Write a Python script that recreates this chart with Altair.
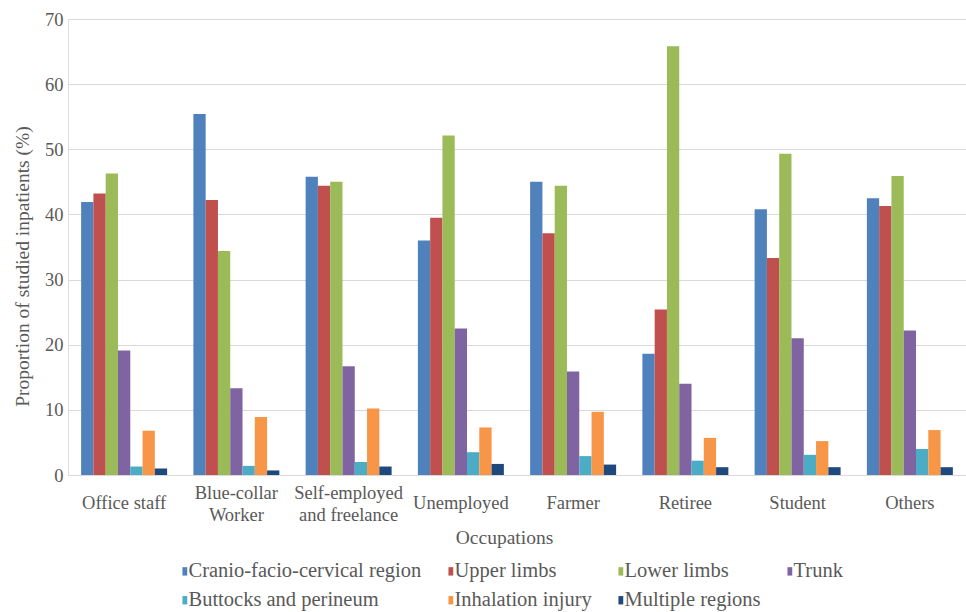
import altair as alt
import pandas as pd

# Occupation groups (a "\n" splits a label over two lines)
occupations = [
    "Office staff",
    "Blue-collar\nWorker",
    "Self-employed\nand freelance",
    "Unemployed",
    "Farmer",
    "Retiree",
    "Student",
    "Others",
]

# Injured body region series
regions = [
    "Cranio-facio-cervical region",
    "Upper limbs",
    "Lower limbs",
    "Trunk",
    "Buttocks and perineum",
    "Inhalation injury",
    "Multiple regions",
]
colors = ["#4F81BD", "#C0504D", "#9BBB59", "#8064A2", "#4BACC6", "#F79646", "#1F497D"]

# Proportion of studied inpatients (%) per occupation
cranio = [41.9, 55.4, 45.8, 36.0, 45.0, 18.6, 40.8, 42.5]
upper_limbs = [43.2, 42.2, 44.4, 39.5, 37.1, 25.4, 33.3, 41.3]
lower_limbs = [46.3, 34.4, 45.0, 52.1, 44.4, 65.8, 49.3, 45.9]
trunk = [19.1, 13.3, 16.7, 22.5, 15.9, 14.0, 21.0, 22.2]
buttocks = [1.3, 1.4, 2.0, 3.5, 2.9, 2.2, 3.1, 4.0]
inhalation = [6.8, 8.9, 10.2, 7.3, 9.7, 5.7, 5.2, 6.9]
multiple = [1.0, 0.7, 1.3, 1.7, 1.6, 1.2, 1.2, 1.2]

y_ticks = [0, 10, 20, 30, 40, 50, 60, 70]

series = [cranio, upper_limbs, lower_limbs, trunk, buttocks, inhalation, multiple]
rows = []
for region, values in zip(regions, series):
    for occ, v in zip(occupations, values):
        rows.append({"occupation": occ, "region": region, "value": v})
df = pd.DataFrame(rows)
occ_df = pd.DataFrame({"occupation": occupations})

FONT = "Liberation Serif"
TEXT = "#595959"

x_enc = alt.X(
    "occupation:N",
    sort=occupations,
    scale=alt.Scale(paddingInner=0.234, paddingOuter=0.117),
    axis=alt.Axis(
        title="Occupations",
        labels=False,
        ticks=False,
        domain=False,
        titleFont=FONT,
        titleFontSize=19.5,
        titleFontWeight="normal",
        titleColor=TEXT,
        titleX=436,
        titleY=62,
        titleBaseline="middle",
        titleAlign="center",
    ),
)

bars = alt.Chart(df).mark_bar().encode(
    x=x_enc,
    xOffset=alt.XOffset(
        "region:N",
        sort=regions,
        scale=alt.Scale(paddingInner=0, paddingOuter=0),
    ),
    y=alt.Y(
        "value:Q",
        scale=alt.Scale(domain=[0, 70], nice=False),
        axis=alt.Axis(
            title="Proportion of studied inpatients (%)",
            values=y_ticks,
            grid=True,
            gridColor="#D9D9D9",
            gridWidth=1.2,
            domain=False,
            ticks=False,
            tickSize=0,
            labelPadding=5,
            labelFontSize=18.5,
            labelFont=FONT,
            labelColor=TEXT,
            titleFont=FONT,
            titleFontSize=19.5,
            titleFontWeight="normal",
            titleColor=TEXT,
            titleAngle=270,
            titleX=-46,
            titleY=247,
            titleBaseline="middle",
            titleAlign="center",
        ),
    ),
    color=alt.Color(
        "region:N",
        sort=regions,
        scale=alt.Scale(domain=regions, range=colors),
        legend=alt.Legend(
            title=None,
            orient="none",
            legendX=106,
            legendY=542,
            direction="horizontal",
            columns=4,
            columnPadding=18,
            rowPadding=8,
            padding=0,
            # small upright marker hugging the right side of its slot
            symbolType="M-0.6,-1.4L1,-1.4L1,1.4L-0.6,1.4Z",
            symbolSize=36,
            symbolStrokeWidth=0,
            symbolOpacity=1,
            # pull each label in tight against its marker
            labelOffset={"expr": "-6"},
            labelFont=FONT,
            labelFontSize=20.5,
            labelColor=TEXT,
            labelLimit=400,
        ),
    ),
)

# Category labels under each group; two-line labels sit half a line higher
# so that all labels share one centre line.
cat_labels = alt.Chart(occ_df).mark_text(
    font=FONT,
    fontSize=18.5,
    color=TEXT,
    baseline="middle",
    align="center",
    lineBreak="\n",
    lineHeight=22,
).encode(
    x=alt.X("occupation:N", sort=occupations),
    text="occupation:N",
)
single_line = cat_labels.transform_filter(
    "indexof(datum.occupation, '\\n') < 0"
).encode(y=alt.value(484))
two_line = cat_labels.transform_filter(
    "indexof(datum.occupation, '\\n') >= 0"
).encode(y=alt.value(474))

chart = (
    alt.layer(bars, single_line, two_line)
    .properties(
        width=898,
        height=456,
        autosize=alt.AutoSizeParams(type="none"),
        padding={"left": 68, "top": 19, "right": 0, "bottom": 137},
    )
    .configure_view(stroke=None)
    .configure(background="white")
)

chart.save("out.html", embed_options={"renderer": "svg", "actions": False})
